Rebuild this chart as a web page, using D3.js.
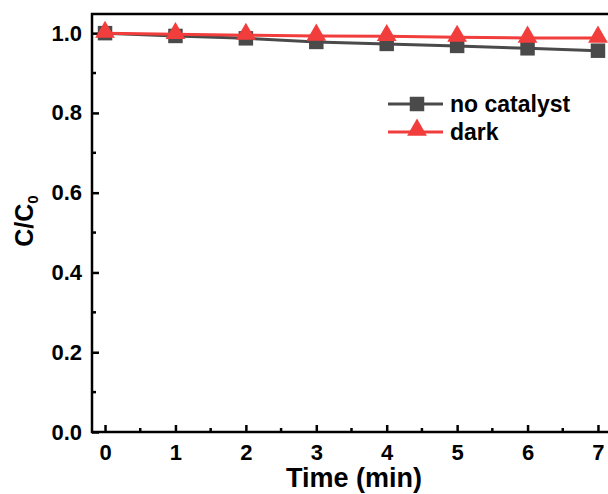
<!doctype html>
<html lang="en">
<head>
<meta charset="utf-8">
<style>
  body { margin: 0; background: #fff; }
  svg { display: block; font-family: Arial, "Liberation Sans", sans-serif; }
</style>
</head>
<body>
<script src="https://d3js.org/d3.v7.min.js"></script>
<div id="chart"></div>
<script>
// data
var times = [0, 1, 2, 3, 4, 5, 6, 7];
var noCatalyst = [1.0, 0.993, 0.987, 0.978, 0.973, 0.968, 0.962, 0.956];
var dark = [1.0, 0.997, 0.995, 0.993, 0.992, 0.990, 0.988, 0.988];
var seriesNames = ["no catalyst", "dark"];
var xTicks = [0, 1, 2, 3, 4, 5, 6, 7];
var yTicks = [0.0, 0.2, 0.4, 0.6, 0.8, 1.0];

var width = 608, height = 494;
// plot box (right edge runs past the picture, as in the original)
var pLeft = 92, pTop = 14, pRight = 611, pBottom = 432;

var svg = d3.select("#chart").append("svg")
  .attr("width", width)
  .attr("height", height);

var x = d3.scaleLinear().domain([-0.185, 7.185]).range([pLeft, pRight]);
var y = d3.scaleLinear().domain([0, 1.048]).range([pBottom, pTop]);

var grey = "#4a4a4a", red = "#f23d3d";

// frame
svg.append("rect")
  .attr("x", pLeft).attr("y", pTop)
  .attr("width", pRight - pLeft).attr("height", pBottom - pTop)
  .attr("fill", "none").attr("stroke", "#000").attr("stroke-width", 2.5);

// x axis (ticks pointing in)
var xAxis = d3.axisBottom(x).tickValues(xTicks).tickSize(-7).tickPadding(12)
  .tickFormat(d3.format("d"));
var gx = svg.append("g").attr("transform", "translate(0," + pBottom + ")").call(xAxis);
gx.select(".domain").remove();
gx.selectAll(".tick line").attr("stroke-width", 2.5);
gx.selectAll("text").style("font-size", "22px").style("font-weight", "bold").attr("fill", "#000");
svg.append("g").selectAll("line")
  .data(d3.range(0.5, 7, 1)).join("line")
  .attr("x1", d => x(d)).attr("x2", d => x(d))
  .attr("y1", pBottom).attr("y2", pBottom - 4)
  .attr("stroke", "#000").attr("stroke-width", 2.5);

// y axis
var yAxis = d3.axisLeft(y).tickValues(yTicks).tickSize(-7).tickPadding(10)
  .tickFormat(d3.format(".1f"));
var gy = svg.append("g").attr("transform", "translate(" + pLeft + ",0)").call(yAxis);
gy.select(".domain").remove();
gy.selectAll(".tick line").attr("stroke-width", 2.5);
gy.selectAll("text").style("font-size", "22px").style("font-weight", "bold").attr("fill", "#000");
svg.append("g").selectAll("line")
  .data(d3.range(0.1, 1.0, 0.2)).join("line")
  .attr("x1", pLeft).attr("x2", pLeft + 4)
  .attr("y1", d => y(d)).attr("y2", d => y(d))
  .attr("stroke", "#000").attr("stroke-width", 2.5);

// axis titles
svg.append("text")
  .attr("x", 354).attr("y", 487)
  .attr("text-anchor", "middle")
  .style("font-size", "27px").style("font-weight", "bold")
  .text("Time (min)");

var yl = svg.append("text")
  .attr("transform", "translate(33,221) rotate(-90)")
  .attr("text-anchor", "middle")
  .style("font-size", "25px").style("font-weight", "bold");
yl.append("tspan").text("C/C");
yl.append("tspan").attr("dy", 5).style("font-size", "15px").text("0");

// lines and markers
var line = d3.line().x((d, i) => x(times[i])).y(d => y(d));
var sq = d3.symbol().type(d3.symbolSquare).size(210);
var tri = d3.symbol().type(d3.symbolTriangle).size(170);

var plot = svg.append("g");
plot.append("path").datum(noCatalyst)
  .attr("d", line).attr("fill", "none").attr("stroke", grey).attr("stroke-width", 3);
plot.selectAll(".sq").data(noCatalyst).join("path")
  .attr("class", "sq")
  .attr("d", sq)
  .attr("transform", (d, i) => "translate(" + x(times[i]) + "," + y(d) + ")")
  .attr("fill", grey);

plot.append("path").datum(dark)
  .attr("d", line).attr("fill", "none").attr("stroke", red).attr("stroke-width", 3);
plot.selectAll(".tri").data(dark).join("path")
  .attr("class", "tri")
  .attr("d", tri)
  .attr("transform", (d, i) => "translate(" + x(times[i]) + "," + (y(d) - 1) + ")")
  .attr("fill", red);

// legend
var legend = svg.append("g");
var lx = 388, ly = 104, gap = 28;
[grey, red].forEach(function (c, i) {
  var yy = ly + i * gap;
  legend.append("line")
    .attr("x1", lx).attr("x2", lx + 55)
    .attr("y1", yy).attr("y2", yy)
    .attr("stroke", c).attr("stroke-width", 3);
  legend.append("path")
    .attr("d", i === 0 ? sq : tri)
    .attr("transform", "translate(" + (lx + 29) + "," + (yy - (i === 0 ? 0 : 2)) + ")")
    .attr("fill", c);
  legend.append("text")
    .attr("x", lx + 62).attr("y", yy + 8)
    .style("font-size", "23px").style("font-weight", "bold")
    .text(seriesNames[i]);
});
</script>
</body>
</html>
